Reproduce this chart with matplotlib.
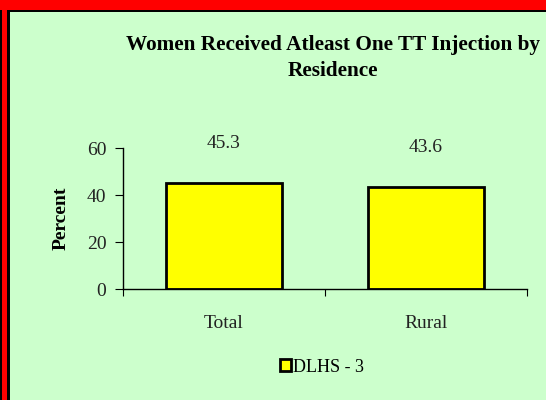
import matplotlib
matplotlib.use("Agg")
import matplotlib.pyplot as plt
from matplotlib.patches import Rectangle

categories = ["Total", "Rural"]
values = [45.3, 43.6]
series_name = "DLHS - 3"
yticks = [0, 20, 40, 60]
title = "Women Received Atleast One TT Injection by\nResidence"

W, H = 546, 400
fig = plt.figure(figsize=(W / 100, H / 100), dpi=100)
fig.patch.set_facecolor("#CCFFCC")
plt.rcParams["font.family"] = ["Liberation Serif", "DejaVu Serif"]

def px(x0, y0, w, h, color):
    fig.add_artist(Rectangle((x0 / W, 1 - (y0 + h) / H), w / W, h / H,
                             transform=fig.transFigure, facecolor=color,
                             edgecolor="none", zorder=10))

# frame: red top band and left red strip with black lines
px(0, 0, W, 10, "#FF0000")
px(0, 10, W, 2, "#000000")
px(0, 10, 8, H - 10, "#FF0000")
px(0, 10, 1.5, H - 10, "#000000")
px(7, 10, 2.5, H - 10, "#000000")

ax = fig.add_axes([123 / W, 1 - 289 / H, (527 - 123) / W, (289 - 148) / H])
ax.set_facecolor("none")
x = range(len(categories))
bars = ax.bar(x, values, width=0.57, color="#FFFF00", edgecolor="black",
              linewidth=2, label=series_name)
for xi, v in zip(x, values):
    ax.text(xi, v + 16.5, f"{v}", ha="center", va="center", fontsize=14,
            color="#222222")
ax.set_xlim(-0.5, 1.5)
ax.set_ylim(0, 60)
ax.set_yticks(yticks)
ax.set_yticklabels([str(t) for t in yticks], fontsize=14, color="#222222")
ax.set_xticks([-0.5, 0.5, 1.5])
ax.set_xticklabels([])
ax.tick_params(axis="x", length=5, direction="out")
ax.tick_params(axis="y", length=6, direction="out", pad=6)
for xi, c in zip(x, categories):
    ax.text(xi, -14.5, c, ha="center", va="center", fontsize=14,
            color="#222222")
for s in ["top", "right"]:
    ax.spines[s].set_visible(False)
ax.spines["left"].set_linewidth(1)
ax.spines["bottom"].set_linewidth(1)
ax.set_ylabel("Percent", fontsize=14, fontweight="bold", labelpad=12)

fig.text(333 / W, 1 - 58 / H, title, ha="center", va="center",
         fontsize=15.3, fontweight="bold", linespacing=1.45)

leg = ax.legend(loc="center", bbox_to_anchor=(322 / W, 1 - 367 / H),
                bbox_transform=fig.transFigure, frameon=False, fontsize=13,
                handlelength=0.6, handleheight=0.6, handletextpad=0.15)
for h in leg.legend_handles:
    h.set_linewidth(2)

fig.savefig("out.png", dpi=100, facecolor=fig.get_facecolor())
